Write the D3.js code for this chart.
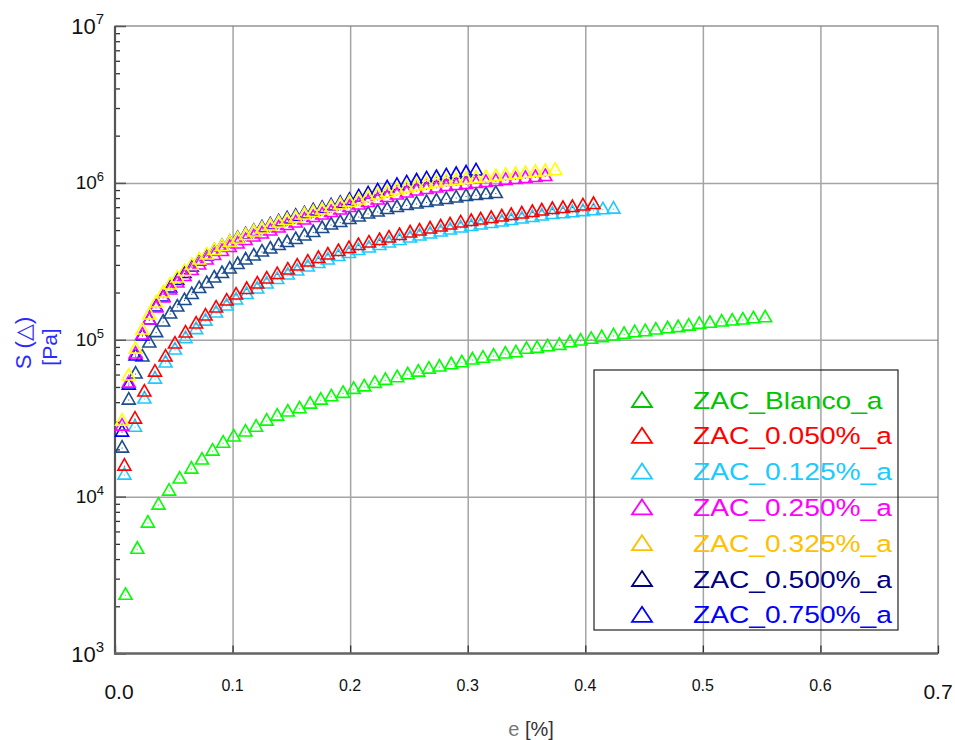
<!DOCTYPE html>
<html>
<head>
<meta charset="utf-8">
<script src="https://cdn.jsdelivr.net/npm/d3@7"></script>
<style>
  body { margin: 0; background: #fff; }
  svg { font-family: "Liberation Sans", Arial, sans-serif; }
</style>
</head>
<body>
<div class="root"></div>
<script>
// series names and colours
const seriesNames = ["ZAC_Blanco_a", "ZAC_0.050%_a", "ZAC_0.125%_a", "ZAC_0.250%_a",
                     "ZAC_0.325%_a", "ZAC_0.500%_a", "ZAC_0.750%_a"];
const markerColors = ["#00ff00", "#ff0000", "#1ccaff", "#ff00ff", "#ffff00", "#1d4d8c", "#0000ff"];
const legendColors = ["#00c400", "#ff0000", "#1ccaff", "#ff00ff", "#ffc000", "#000080", "#0000ff"];

// axis ticks
const xTicks = [0, 0.1, 0.2, 0.3, 0.4, 0.5, 0.6, 0.7];
const xTickLabels = ["0.0", "0.1", "0.2", "0.3", "0.4", "0.5", "0.6", "0.7"];
const yDecades = [1e3, 1e4, 1e5, 1e6, 1e7];
const yExponents = ["3", "4", "5", "6", "7"];

// strain e [%]
const strainBlanco = [0.009, 0.019, 0.028, 0.037, 0.046, 0.055, 0.065, 0.074, 0.083, 0.092,
  0.101, 0.111, 0.120, 0.129, 0.138, 0.147, 0.157, 0.166, 0.175, 0.184,
  0.194, 0.203, 0.212, 0.221, 0.230, 0.240, 0.249, 0.258, 0.267, 0.276,
  0.286, 0.295, 0.304, 0.313, 0.322, 0.332, 0.341, 0.350, 0.359, 0.368,
  0.378, 0.387, 0.396, 0.405, 0.414, 0.424, 0.433, 0.442, 0.451, 0.460,
  0.470, 0.479, 0.488, 0.497, 0.506, 0.516, 0.525, 0.534, 0.543, 0.553];
const strainLow = [0.008, 0.017, 0.025, 0.034, 0.043, 0.051, 0.060, 0.069, 0.077, 0.086,
  0.095, 0.103, 0.112, 0.121, 0.129, 0.138, 0.147, 0.155, 0.164, 0.173,
  0.181, 0.190, 0.199, 0.207, 0.216, 0.225, 0.233, 0.242, 0.251, 0.259,
  0.268, 0.277, 0.285, 0.294, 0.303, 0.311, 0.320, 0.329, 0.337, 0.346,
  0.355, 0.363, 0.372, 0.381, 0.389, 0.398, 0.407, 0.415, 0.424];
const strainHigh = [0.0060, 0.0117, 0.0175, 0.0233, 0.0292, 0.0350, 0.0410, 0.0469, 0.0530, 0.0591,
  0.0653, 0.0716, 0.0780, 0.0844, 0.0910, 0.0976, 0.1043, 0.1111, 0.1180, 0.1250,
  0.1321, 0.1392, 0.1464, 0.1537, 0.1611, 0.1686, 0.1762, 0.1838, 0.1916, 0.1994,
  0.2073, 0.2153, 0.2234, 0.2315, 0.2398, 0.2481, 0.2565, 0.2650, 0.2734, 0.2818,
  0.2902, 0.2986, 0.3071, 0.3155, 0.3239, 0.3323, 0.3407, 0.3491, 0.3576, 0.3660,
  0.3744];

// stress S [Pa]
const stressBlanco = [2350, 4620, 6780, 8830, 10840, 12940, 14970, 17100, 19500, 21900,
  24000, 25800, 27700, 30300, 32600, 34600, 36300, 38900, 41200, 43300,
  45500, 48300, 50100, 52700, 55100, 57300, 59800, 62200, 65000, 67000,
  69300, 71300, 74300, 76300, 78700, 81100, 82600, 86900, 88100, 90200,
  92100, 95700, 98100, 100700, 103100, 105700, 108200, 110900, 112500, 115300,
  117500, 119400, 122200, 125300, 127300, 129700, 131600, 133600, 136100, 138000];
const stress050 = [15650, 31200, 46400, 62200, 77600, 93900, 110300, 125900, 141600, 159300,
  176500, 192800, 209100, 226600, 243900, 260500, 278200, 295100, 312900, 329600,
  346900, 365200, 381600, 398800, 413700, 429200, 445200, 461800, 479200, 493400,
  508200, 523400, 539000, 555100, 567400, 580000, 592900, 606100, 619600, 633400,
  647400, 661900, 676700, 686700, 696800, 712400, 728200];
const stress125 = [13710, 27700, 41900, 56100, 71100, 86000, 101700, 116100, 131500, 148000,
  164000, 179100, 194300, 210500, 226600, 242000, 258400, 274100, 290700, 306200,
  322300, 339300, 354500, 370500, 384300, 398700, 413600, 429000, 445200, 458400,
  472100, 486200, 500700, 515700, 527100, 538800, 550800, 563100, 575600, 588400,
  601400, 614900, 628700, 636000, 645000, 656000, 664000, 674000, 680000];
const stress250 = [28160, 52930, 81060, 107200, 133500, 159300, 184500, 207500, 229900, 253000,
  276200, 299500, 322400, 344300, 365200, 387300, 407700, 429200, 451900, 472200,
  493400, 515700, 535000, 555100, 580000, 601800, 624300, 647400, 671700, 696800,
  723000, 749900, 777800, 806900, 837200, 862200, 887900, 907700, 927900, 948400,
  962500, 976700, 991300, 1006000, 1021000, 1036000, 1051000, 1067000, 1082000, 1098000];
const stress325 = [30300, 58700, 87200, 115300, 143700, 171500, 198600, 223300, 247500, 272200,
  297300, 322400, 346900, 370600, 393000, 416800, 438700, 461800, 486300, 508200,
  531100, 555100, 575800, 597400, 624300, 647400, 671700, 696800, 723000, 749900,
  777800, 806900, 837200, 868500, 901000, 927900, 955400, 976700, 998600, 1021000,
  1036000, 1051000, 1067000, 1082000, 1098000, 1115000, 1131000, 1148000, 1165000, 1182000,
  1200000];
const stress500 = [20390, 41250, 60450, 77560, 95280, 111100, 129700, 145800, 161600, 177800,
  194200, 212100, 228300, 247500, 264400, 282400, 301700, 322400, 341800, 362500,
  378800, 398800, 416800, 435500, 458500, 482700, 511900, 539000, 559100, 584400,
  606100, 633400, 652200, 676700, 696800, 717700, 733600, 749900, 766600, 783700,
  801200, 819000, 831000, 843300, 855800];
const stress750 = [25780, 51410, 78700, 105600, 133500, 161600, 187200, 213700, 238600, 264400,
  290800, 317700, 341800, 367900, 393000, 416800, 441900, 465300, 489900, 515700,
  539000, 563200, 588800, 610700, 633400, 661900, 686700, 712400, 739000, 772300,
  813000, 849700, 887900, 927900, 962500, 998600, 1028000, 1059000, 1082000, 1107000,
  1131000, 1156000, 1191000];

const seriesX = [strainBlanco, strainLow, strainLow, strainHigh, strainHigh, strainHigh, strainHigh];
const seriesY = [stressBlanco, stress050, stress125, stress250, stress325, stress500, stress750];
// drawing order (yellow ends up on top at the start, as in the original)
const drawOrder = [0, 2, 1, 5, 6, 3, 4];

const w = 955;
const h = 740;
const padLeft = 115, padRight = 938, padTop = 26, padBottom = 653.5;

const svg = d3.select(".root")
              .append("svg")
              .attr("width", w)
              .attr("height", h);

svg.append("rect").attr("width", w).attr("height", h).attr("fill", "#fff");

const xScale = d3.scaleLinear().domain([0, 0.7]).range([padLeft, padRight]);
const yScale = d3.scaleLog().domain([1e3, 1e7]).range([padBottom, padTop]);

// grid lines
svg.append("g")
   .attr("transform", "translate(0," + padBottom + ")")
   .call(d3.axisBottom(xScale).tickValues(xTicks.slice(1, -1)).tickSize(-(padBottom - padTop)).tickFormat(""))
   .call(g => g.select(".domain").remove())
   .selectAll("line").attr("stroke", "#a4a4a4").attr("stroke-width", 1.5);

svg.append("g")
   .attr("transform", "translate(" + padLeft + ",0)")
   .call(d3.axisLeft(yScale).tickValues(yDecades.slice(1, -1)).tickSize(-(padRight - padLeft)).tickFormat(""))
   .call(g => g.select(".domain").remove())
   .selectAll("line").attr("stroke", "#a4a4a4").attr("stroke-width", 1.5);

// frame
svg.append("rect")
   .attr("x", padLeft).attr("y", padTop)
   .attr("width", padRight - padLeft).attr("height", padBottom - padTop)
   .attr("fill", "none").attr("stroke", "#7a7a7a").attr("stroke-width", 1.2);

// minor ticks on the log axis
const minorTicks = [];
yDecades.slice(0, -1).forEach(d => { for (let m = 2; m <= 9; m++) minorTicks.push(d * m); });

svg.append("g")
   .attr("transform", "translate(" + padLeft + ",0)")
   .call(d3.axisLeft(yScale).tickValues(minorTicks).tickSize(-5).tickFormat(""))
   .call(g => g.select(".domain").remove())
   .selectAll("line").attr("stroke", "#333").attr("stroke-width", 1.3);

svg.append("g")
   .attr("transform", "translate(" + padLeft + ",0)")
   .call(d3.axisLeft(yScale).tickValues(yDecades).tickSize(-11).tickFormat(""))
   .call(g => g.select(".domain").remove())
   .selectAll("line").attr("stroke", "#555").attr("stroke-width", 1.5);

svg.append("g")
   .attr("transform", "translate(0," + padBottom + ")")
   .call(d3.axisBottom(xScale).tickValues(xTicks).tickSize(-8).tickFormat(""))
   .call(g => g.select(".domain").remove())
   .selectAll("line").attr("stroke", "#333").attr("stroke-width", 1.3);

// heavy left and bottom axis lines
svg.append("line").attr("x1", padLeft).attr("x2", padLeft).attr("y1", padTop).attr("y2", padBottom + 1)
   .attr("stroke", "#555").attr("stroke-width", 2.2);
svg.append("line").attr("x1", padLeft - 1).attr("x2", padRight).attr("y1", padBottom).attr("y2", padBottom)
   .attr("stroke", "#666").attr("stroke-width", 2.4);

// y tick labels 10^n
yDecades.forEach((d, i) => {
  const big = (i === 0 || i === yDecades.length - 1);
  const t = svg.append("text")
     .attr("x", 104)
     .attr("y", yScale(d) + (big ? 8 : 6.5))
     .attr("text-anchor", "end")
     .attr("fill", "#111")
     .style("font-size", big ? "22px" : "19px");
  t.append("tspan").text("10");
  t.append("tspan")
   .attr("dy", big ? -10 : -8)
   .style("font-size", big ? "15px" : "13px")
   .text(yExponents[i]);
});

// x tick labels
xTicks.forEach((d, i) => {
  const big = (i === 0 || i === xTicks.length - 1);
  svg.append("text")
     .attr("x", xScale(d) + (i === 0 ? 4 : 0))
     .attr("y", big ? 699 : 691)
     .attr("text-anchor", "middle")
     .attr("fill", "#111")
     .style("font-size", big ? "21px" : "16px")
     .text(xTickLabels[i]);
});

// axis titles
const xt = svg.append("text")
   .attr("x", 531).attr("y", 736)
   .attr("text-anchor", "middle")
   .style("font-size", "20px");
xt.append("tspan").attr("fill", "#777").text("e");
xt.append("tspan").attr("fill", "#333").text(" [%]");

svg.append("text")
   .attr("transform", "translate(31,343)rotate(-90)")
   .attr("text-anchor", "middle")
   .attr("fill", "#2b2bff")
   .style("font-size", "22px")
   .text("S (\u25B3)");
svg.append("text")
   .attr("transform", "translate(57,347)rotate(-90)")
   .attr("text-anchor", "middle")
   .attr("fill", "#2b2bff")
   .style("font-size", "21px")
   .text("[Pa]");

// data markers
const tri = "M0,-7.5L6.5,4L-6.5,4Z";
drawOrder.forEach(s => {
  const ys = seriesY[s];
  const pts = d3.zip(seriesX[s].slice(0, ys.length), ys);
  const g = svg.append("g").attr("class", "series");
  g.selectAll("path")
   .data(pts)
   .enter()
   .append("path")
   .attr("d", tri)
   .attr("transform", d => "translate(" + xScale(d[0]) + "," + yScale(d[1]) + ")")
   .attr("fill", "none")
   .attr("stroke", markerColors[s])
   .attr("stroke-width", 1.6);
  g.selectAll("rect")
   .data(pts)
   .enter()
   .append("rect")
   .attr("x", d => xScale(d[0]) - 0.5)
   .attr("y", d => yScale(d[1]) - 0.5)
   .attr("width", 1).attr("height", 1)
   .attr("fill", markerColors[s]);
});

// legend
const lgX = 594, lgY = 370, lgW = 304, lgH = 260;
svg.append("rect")
   .attr("x", lgX).attr("y", lgY).attr("width", lgW).attr("height", lgH)
   .attr("fill", "none").attr("stroke", "#222").attr("stroke-width", 1.2);

seriesNames.forEach((name, i) => {
  const cy = 400 + i * 35.8;
  svg.append("path")
     .attr("d", "M0,-8L10,7L-10,7Z")
     .attr("transform", "translate(642," + cy + ")")
     .attr("fill", "none")
     .attr("stroke", legendColors[i])
     .attr("stroke-width", 1.8);
  svg.append("text")
     .attr("transform", "translate(693," + (cy + 8.5) + ")scale(1.2,1)")
     .attr("fill", legendColors[i])
     .style("font-size", "23.5px")
     .text(name);
});
</script>
</body>
</html>
